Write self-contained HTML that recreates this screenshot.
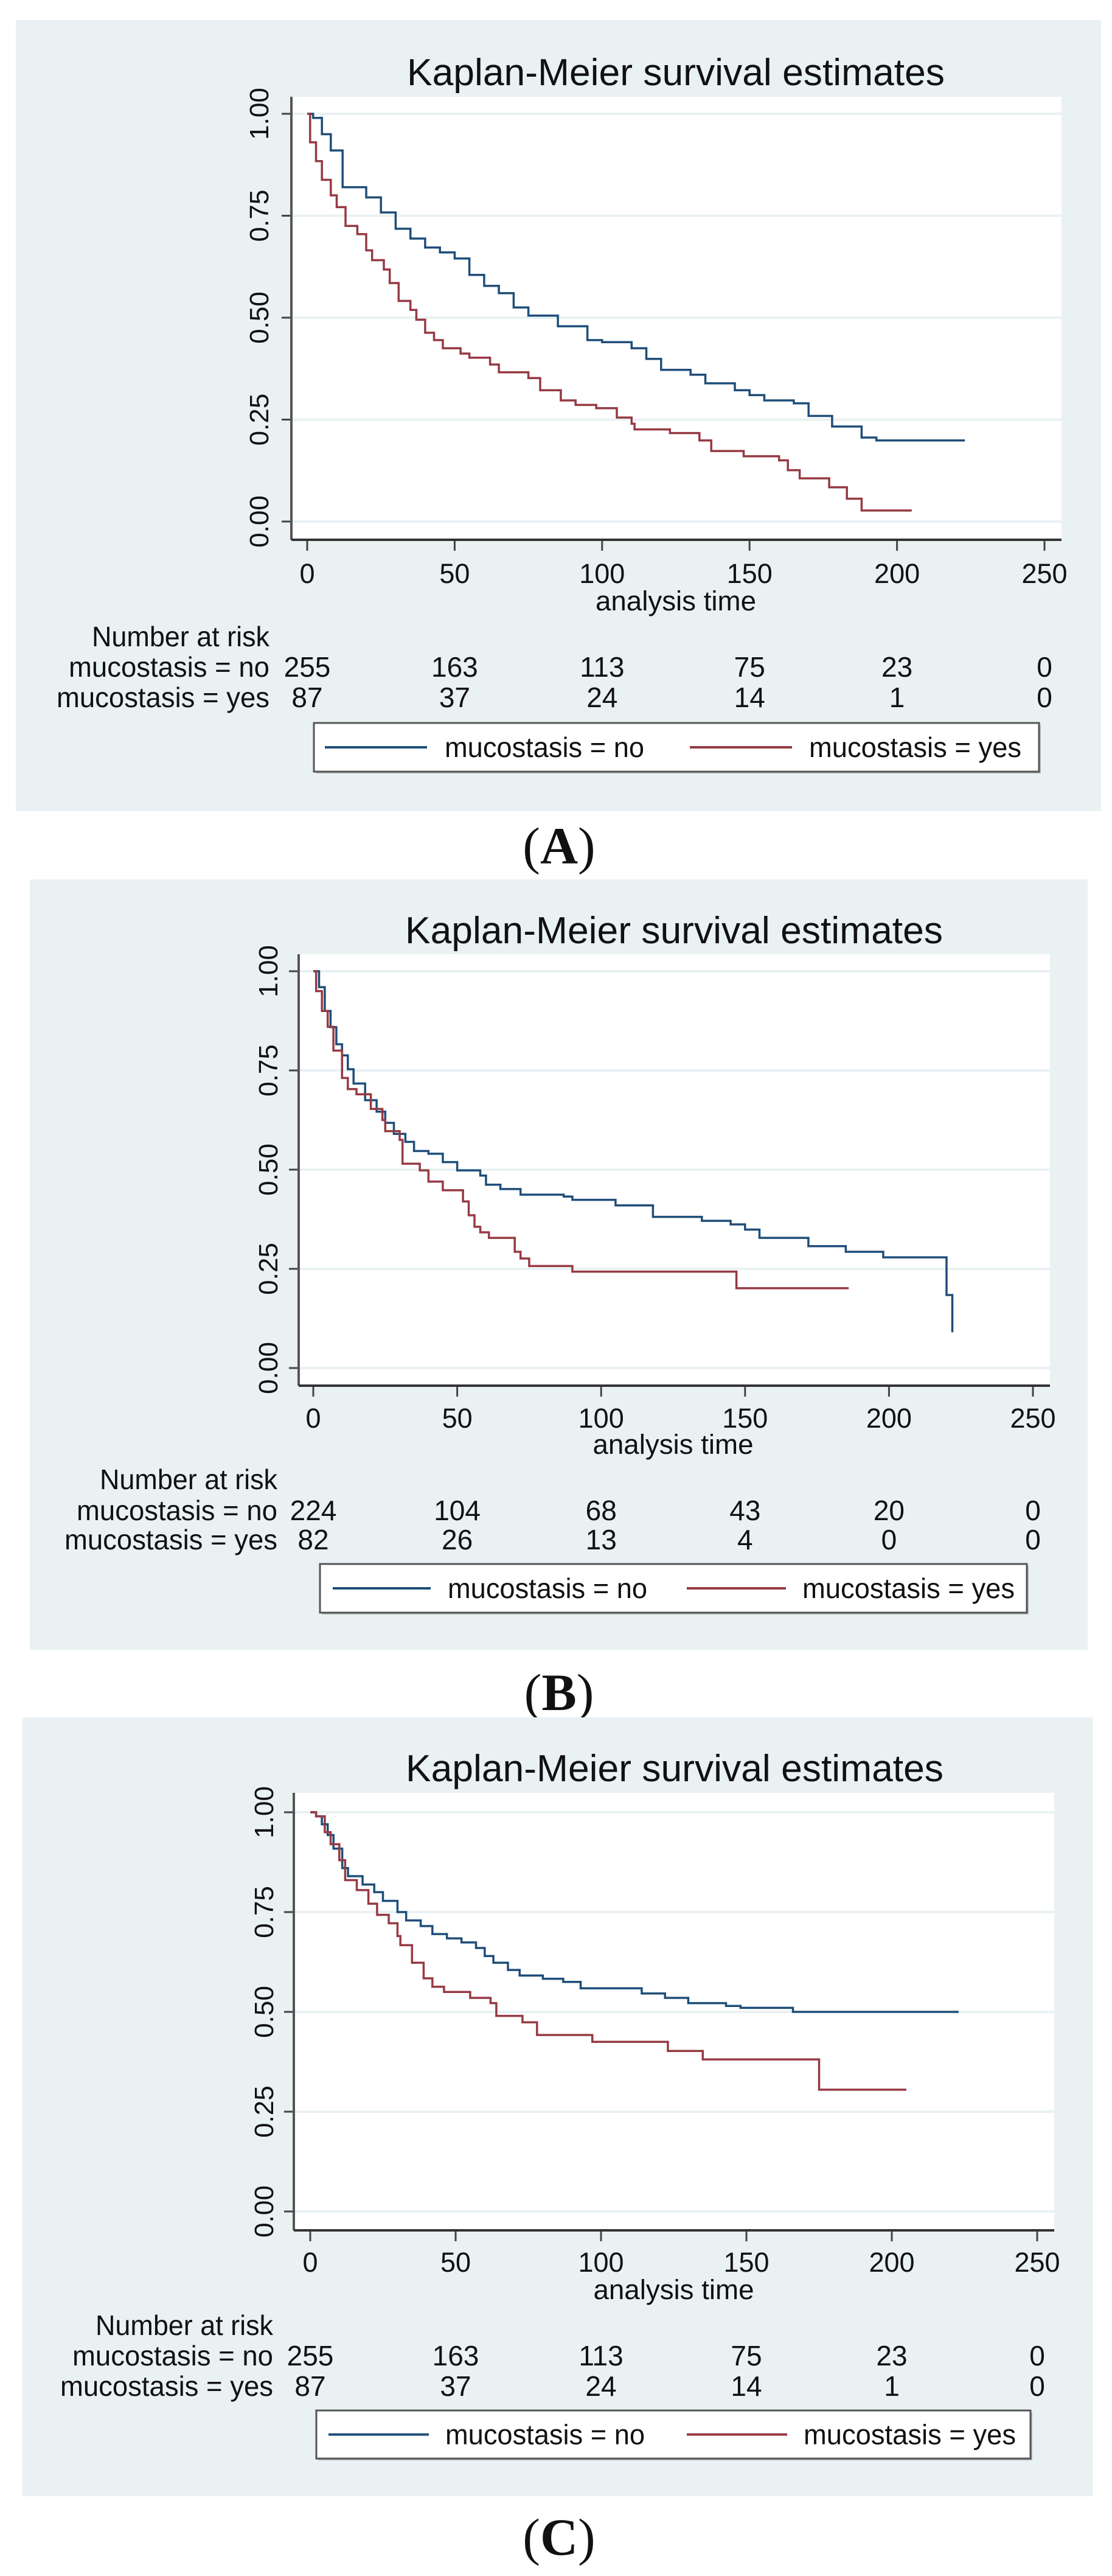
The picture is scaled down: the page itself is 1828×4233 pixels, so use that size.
<!DOCTYPE html>
<html><head><meta charset="utf-8">
<style>
html,body{margin:0;padding:0;background:#fff;}
svg{display:block;}
text{font-family:"Liberation Sans",Arial,sans-serif;fill:#111;}
.panel-label{font-family:"Liberation Serif",serif;}
</style></head>
<body>
<svg id="fig" width="1828" height="4233" viewBox="0 0 1828 4233" xmlns="http://www.w3.org/2000/svg"></svg>
<script>
// ---- Data ----
const xTicks = [0, 50, 100, 150, 200, 250];
const yTicks = [0, 0.25, 0.5, 0.75, 1];
const yTickLabels = ["0.00", "0.25", "0.50", "0.75", "1.00"];
const panelLabels = ["A", "B", "C"];

// Panel A
const aNoT = [2,5,8,12,20,25,30,35,40,45,50,55,60,65,70,75,85,95,100,110,115,120,130,135,145,150,155,165,170,178,188,193];
const aNoS = [0.99,0.95,0.91,0.82,0.795,0.758,0.718,0.694,0.672,0.66,0.645,0.605,0.578,0.56,0.525,0.505,0.479,0.445,0.44,0.425,0.399,0.372,0.36,0.339,0.322,0.31,0.297,0.29,0.259,0.233,0.206,0.199];
const aNoEnd = 223;
const aYesT = [1,3,5,8,10,13,17,20,22,26,28,31,35,37,40,43,46,52,55,62,65,75,79,86,91,98,105,110,111,123,133,137,148,160,163,167,177,183,188];
const aYesS = [0.93,0.884,0.838,0.80,0.771,0.725,0.705,0.665,0.641,0.618,0.585,0.541,0.519,0.495,0.463,0.445,0.425,0.412,0.402,0.385,0.366,0.352,0.322,0.297,0.286,0.278,0.255,0.24,0.226,0.217,0.199,0.173,0.16,0.15,0.126,0.106,0.084,0.056,0.027];
const aYesEnd = 205;
const aRiskNo = [255,163,113,75,23,0];
const aRiskYes = [87,37,24,14,1,0];

// Panel B
const bNoT = [2,4,6,8,10,12,14,18,22,25,28,32,35,40,45,50,58,60,65,72,87,90,105,118,135,145,150,155,172,185,198,220,222];
const bNoS = [0.96,0.90,0.859,0.816,0.788,0.753,0.717,0.675,0.646,0.618,0.59,0.57,0.547,0.54,0.519,0.498,0.485,0.462,0.451,0.437,0.432,0.424,0.41,0.381,0.371,0.362,0.349,0.328,0.307,0.293,0.279,0.184,0.09];
const bNoEnd = 222;
const bYesT = [1,3,5,7,10,12,15,20,24,25,30,31,37,40,45,52,54,56,58,61,70,72,75,90,147];
const bYesS = [0.95,0.90,0.86,0.80,0.731,0.703,0.69,0.653,0.625,0.597,0.575,0.515,0.498,0.47,0.448,0.42,0.385,0.356,0.342,0.328,0.293,0.276,0.257,0.243,0.201];
const bYesEnd = 186;
const bRiskNo = [224,104,68,43,20,0];
const bRiskYes = [82,26,13,4,0,0];

// Panel C
const cNoT = [2,4,6,8,11,13,18,22,25,30,33,38,42,47,52,57,60,63,68,72,80,87,93,114,122,130,143,148,166];
const cNoS = [0.99,0.97,0.943,0.909,0.86,0.84,0.819,0.80,0.778,0.75,0.729,0.715,0.695,0.684,0.674,0.66,0.64,0.623,0.605,0.591,0.583,0.575,0.559,0.546,0.535,0.522,0.515,0.51,0.50];
const cNoEnd = 223;
const cYesT = [2,5,7,10,12,16,20,23,27,30,31,35,39,42,46,55,62,64,73,78,97,123,135,175];
const cYesS = [0.99,0.95,0.92,0.88,0.83,0.805,0.771,0.743,0.722,0.69,0.667,0.623,0.584,0.563,0.55,0.535,0.522,0.49,0.474,0.442,0.425,0.402,0.381,0.305];
const cYesEnd = 205;
const cRiskNo = [255,163,113,75,23,0];
const cRiskYes = [87,37,24,14,1,0];

const NS = "http://www.w3.org/2000/svg";
const svg = document.getElementById('fig');
function mk(tag, attrs, parent){
  const e = document.createElementNS(NS, tag);
  for (const k in attrs) e.setAttribute(k, attrs[k]);
  (parent||svg).appendChild(e);
  return e;
}
const BLUE = "#1f4e79", RED = "#963a43", BG = "#e9f1f3";

function stepPath(sx, sy, ts, ss, end){
  let d = "M" + sx(0) + "," + sy(1);
  for (let i=0;i<ts.length;i++){
    d += " H" + sx(ts[i]).toFixed(1) + " V" + sy(ss[i]).toFixed(1);
  }
  d += " H" + sx(end).toFixed(1);
  return d;
}

const panels = [
 {key:"a", bg:[26,33,1810,1333], pl:479, pr:1745, pt:159, pb:887, x0:505, x250:1717, y1:187, y0:857,
  titleX:1111, titleY:140, tickY:958, atY:1003, narY:1062, rowNo:1112, rowYes:1162, narRight:443, ytx:426,
  leg:[516,1188,1708,1268], lb:[534,702,731], lr:[1134,1302,1330], lab:919, labY:1419,
  noT:aNoT, noS:aNoS, noEnd:aNoEnd, yesT:aYesT, yesS:aYesS, yesEnd:aYesEnd, rNo:aRiskNo, rYes:aRiskYes},
 {key:"b", bg:[49,1445,1788,2711], pl:491, pr:1726, pt:1568, pb:2277, x0:515, x250:1698, y1:1596, y0:2248,
  titleX:1108, titleY:1550, tickY:2346, atY:2389, narY:2447, rowNo:2498, rowYes:2546, narRight:456, ytx:441,
  leg:[526,2570,1688,2650], lb:[547,708,736], lr:[1129,1292,1319], lab:919, labY:2810,
  noT:bNoT, noS:bNoS, noEnd:bNoEnd, yesT:bYesT, yesS:bYesS, yesEnd:bYesEnd, rNo:bRiskNo, rYes:bRiskYes},
 {key:"c", bg:[37,2822,1796,4102], pl:483, pr:1733, pt:2946, pb:3665, x0:510, x250:1705, y1:2978, y0:3634,
  titleX:1109, titleY:2927, tickY:3733, atY:3778, narY:3837, rowNo:3887, rowYes:3937, narRight:449, ytx:434,
  leg:[520,3961,1694,4040], lb:[540,705,732], lr:[1129,1294,1321], lab:919, labY:4198,
  noT:cNoT, noS:cNoS, noEnd:cNoEnd, yesT:cYesT, yesS:cYesS, yesEnd:cYesEnd, rNo:cRiskNo, rYes:cRiskYes}
];

panels.forEach((p, idx) => {
  const g = mk('g', {});
  
  
  const sx = t => p.x0 + (p.x250 - p.x0) * t / 250;
  const sy = s => p.y0 - (p.y0 - p.y1) * s;

  const bg = mk('rect', {x:p.bg[0], y:p.bg[1], width:p.bg[2]-p.bg[0], height:p.bg[3]-p.bg[1], fill:BG}, g);
  
  
  const pa = mk('rect', {x:p.pl, y:p.pt, width:p.pr-p.pl, height:p.pb-p.pt, fill:"#fff"}, g);
  
  

  const title = mk('text', {x:p.titleX, y:p.titleY, 'text-anchor':'middle', 'font-size':62, textLength:884, lengthAdjust:'spacingAndGlyphs', fill:'#1e3a5f'}, g);
  title.textContent = "Kaplan-Meier survival estimates";
  
  

  yTicks.forEach((v, i) => {
    const gl = mk('line', {x1:p.pl, x2:p.pr, y1:sy(v), y2:sy(v), stroke:BG, 'stroke-width':4}, g);
    
    
    const tk = mk('line', {x1:p.pl-16, x2:p.pl, y1:sy(v), y2:sy(v), stroke:'#444', 'stroke-width':3}, g);
    
    
    const tl = mk('text', {x:0, y:0, 'text-anchor':'middle', 'font-size':44, transform:'translate(' + (p.ytx+15) + ',' + sy(v) + ') rotate(-90)'}, g);
    tl.textContent = yTickLabels[i];
    
    
  });
  xTicks.forEach(v => {
    const tk = mk('line', {x1:sx(v), x2:sx(v), y1:p.pb, y2:p.pb+18, stroke:'#444', 'stroke-width':3}, g);
    
    
    const tl = mk('text', {x:sx(v), y:p.tickY, 'text-anchor':'middle', 'font-size':45}, g);
    tl.textContent = String(v);
    
    
  });
  const ya = mk('line', {x1:p.pl, x2:p.pl, y1:p.pt, y2:p.pb, stroke:'#555', 'stroke-width':4}, g);
  
  
  const xa = mk('line', {x1:p.pl, x2:p.pr, y1:p.pb, y2:p.pb, stroke:'#333', 'stroke-width':4}, g);
  
  

  const at = mk('text', {x:sx(125), y:p.atY, 'text-anchor':'middle', 'font-size':45, textLength:264, lengthAdjust:'spacingAndGlyphs'}, g);
  at.textContent = "analysis time";
  
  

  const cn = mk('path', {d:stepPath(sx, sy, p.noT, p.noS, p.noEnd), fill:'none', stroke:BLUE, 'stroke-width':3.5}, g);
  
  
  const cy = mk('path', {d:stepPath(sx, sy, p.yesT, p.yesS, p.yesEnd), fill:'none', stroke:RED, 'stroke-width':3.5}, g);
  
  

  const nar = mk('text', {x:p.narRight, y:p.narY, 'text-anchor':'end', 'font-size':46, textLength:292, lengthAdjust:'spacingAndGlyphs'}, g);
  nar.textContent = "Number at risk";
  
  
  const rn = mk('text', {x:p.narRight, y:p.rowNo, 'text-anchor':'end', 'font-size':46, textLength:330, lengthAdjust:'spacingAndGlyphs'}, g);
  rn.textContent = "mucostasis = no";
  
  
  const ry = mk('text', {x:p.narRight, y:p.rowYes, 'text-anchor':'end', 'font-size':46, textLength:350, lengthAdjust:'spacingAndGlyphs'}, g);
  ry.textContent = "mucostasis = yes";
  
  
  xTicks.forEach((v, i) => {
    const a = mk('text', {x:sx(v), y:p.rowNo, 'text-anchor':'middle', 'font-size':46}, g);
    a.textContent = String(p.rNo[i]);
    
    
    const b = mk('text', {x:sx(v), y:p.rowYes, 'text-anchor':'middle', 'font-size':46}, g);
    b.textContent = String(p.rYes[i]);
    
    
  });

  const L = p.leg;
  const lg = mk('g', {}, g);
  
  
  mk('rect', {x:L[0]+3, y:L[1]+3, width:L[2]-L[0], height:L[3]-L[1], fill:'#bbb'}, lg);
  mk('rect', {x:L[0], y:L[1], width:L[2]-L[0], height:L[3]-L[1], fill:'#fff', stroke:'#555', 'stroke-width':3}, lg);
  const cyL = (L[1]+L[3])/2;
  mk('line', {x1:p.lb[0], x2:p.lb[1], y1:cyL, y2:cyL, stroke:BLUE, 'stroke-width':4}, lg);
  const t1 = mk('text', {x:p.lb[2], y:cyL+16, 'font-size':46, textLength:328, lengthAdjust:'spacingAndGlyphs'}, lg);
  t1.textContent = "mucostasis = no";
  
  
  mk('line', {x1:p.lr[0], x2:p.lr[1], y1:cyL, y2:cyL, stroke:RED, 'stroke-width':4}, lg);
  const t2 = mk('text', {x:p.lr[2], y:cyL+16, 'font-size':46, textLength:349, lengthAdjust:'spacingAndGlyphs'}, lg);
  t2.textContent = "mucostasis = yes";
  
  

  const lab = mk('text', {x:p.lab, y:p.labY, 'text-anchor':'middle', 'font-size':86, 'class':'panel-label'}, svg);
  lab.innerHTML = '(<tspan font-weight="bold">' + panelLabels[idx] + '</tspan>)';
  
  
});
</script>
</body></html>
